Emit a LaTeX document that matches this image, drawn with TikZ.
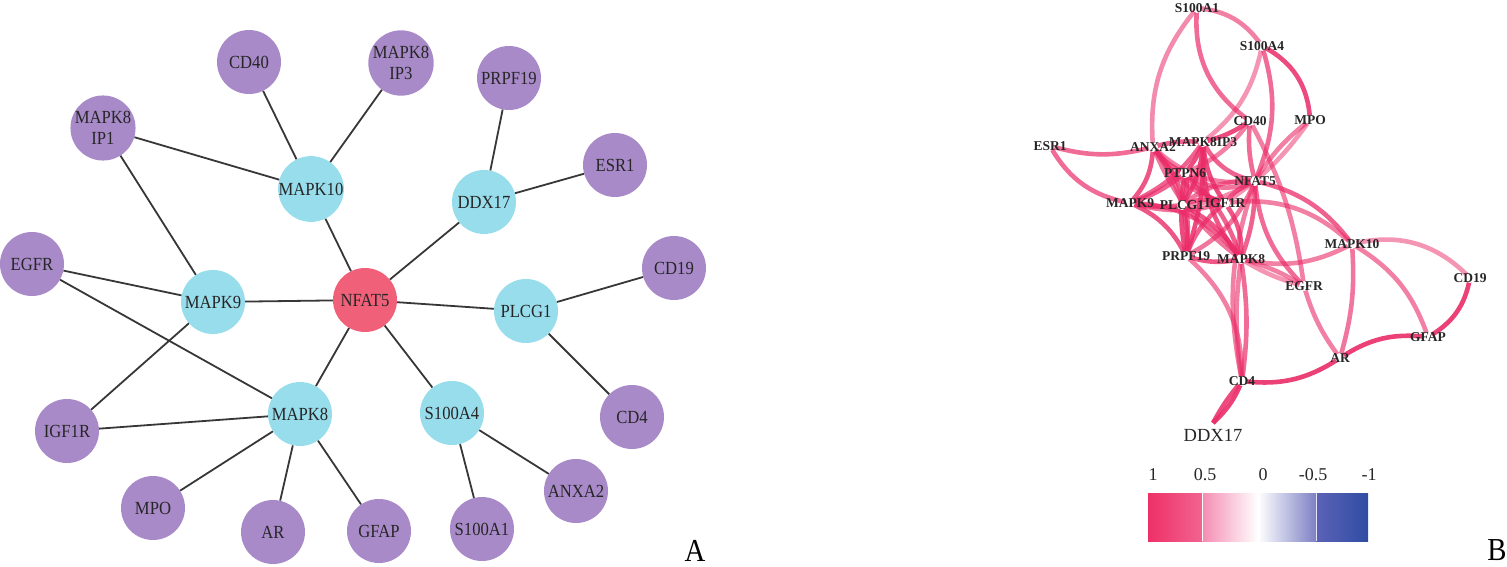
\documentclass[tikz,border=0pt]{standalone}
\usepackage{fontspec}
\setmainfont{Liberation Serif}
\newfontfamily\netfont[FakeStretch=0.9]{Liberation Serif}
\usetikzlibrary{positioning}

\definecolor{corered}{RGB}{240,96,121}
\definecolor{hubcyan}{RGB}{152,221,236}
\definecolor{leafpurple}{RGB}{169,138,201}
\definecolor{linkgray}{RGB}{55,55,55}
\definecolor{coexppink}{RGB}{234,44,104}
\definecolor{barpinkA}{RGB}{238,48,104}
\definecolor{barpinkB}{RGB}{241,100,144}
\definecolor{barpinkC}{RGB}{244,140,178}
\definecolor{barblueA}{RGB}{125,128,196}
\definecolor{barblueB}{RGB}{92,98,182}
\definecolor{barblueC}{RGB}{47,77,163}

\tikzset{
  gene/.style={circle, minimum size=64pt, inner sep=0pt, align=center,
    font=\netfont\fontsize{18.5}{20.5}\selectfont, text=black!85},
  core/.style={gene, fill=corered},
  hub/.style={gene, fill=hubcyan},
  leaf/.style={gene, fill=leafpurple},
  link/.style={draw=linkgray, line width=1.8pt},
  coexp/.style={draw=coexppink, line width=4.6pt},
  dot/.style={circle, fill=white, minimum size=10pt, inner sep=0pt},
  genelabel/.style={font=\bfseries\fontsize{13.5}{13.5}\selectfont, text=black!85, inner sep=0pt},
  plainlabel/.style={font=\fontsize{18}{18}\selectfont, text=black!85, inner sep=0pt},
  panel/.style={font=\netfont\fontsize{32}{32}\selectfont, inner sep=0pt},
}

\begin{document}
\begin{tikzpicture}[x=1pt, y=-1pt]
\useasboundingbox (0,0) rectangle (1507,567);

% panel A: star network
\node[core] (NFAT5) at (365,300) {NFAT5};
\node[hub] (MAPK10) at (311,189) {MAPK10};
\node[hub] (DDX17) at (484,202) {DDX17};
\node[hub] (MAPK9) at (213,302) {MAPK9};
\node[hub] (PLCG1) at (526,311) {PLCG1};
\node[hub] (MAPK8) at (300,414) {MAPK8};
\node[hub] (S100A4) at (452,413) {S100A4};

\node[leaf] (CD40) at (249,62) {CD40};
\node[leaf] (MAPK8IP3) at (401,63) {MAPK8\\IP3};
\node[leaf] (PRPF19) at (509,78) {PRPF19};
\node[leaf] (MAPK8IP1) at (103,128) {MAPK8\\IP1};
\node[leaf] (ESR1) at (615,165) {ESR1};
\node[leaf] (EGFR) at (32,264) {EGFR};
\node[leaf] (CD19) at (674,268) {CD19};
\node[leaf] (IGF1R) at (67,431) {IGF1R};
\node[leaf] (CD4) at (632,417) {CD4};
\node[leaf] (ANXA2) at (576,491) {ANXA2};
\node[leaf] (MPO) at (153,508) {MPO};
\node[leaf] (S100A1) at (482,529) {S100A1};
\node[leaf] (AR) at (273,532) {AR};
\node[leaf] (GFAP) at (379,531) {GFAP};

\foreach \a/\b in {NFAT5/MAPK10, NFAT5/DDX17, NFAT5/MAPK9, NFAT5/PLCG1,
    NFAT5/MAPK8, NFAT5/S100A4, MAPK10/CD40, MAPK10/MAPK8IP3, MAPK10/MAPK8IP1,
    DDX17/PRPF19, DDX17/ESR1, MAPK9/MAPK8IP1, MAPK9/EGFR, MAPK9/IGF1R,
    PLCG1/CD19, PLCG1/CD4, MAPK8/EGFR, MAPK8/IGF1R, MAPK8/MPO, MAPK8/AR,
    MAPK8/GFAP, S100A4/ANXA2, S100A4/S100A1}
  \draw[link] (\a) -- (\b);

\node[panel] (panelA) at (695,551) {A};

% panel B: co-expression network
\coordinate (bS100A1) at (1197,8);
\coordinate (bS100A4) at (1262,46);
\coordinate (bMPO) at (1310,120);
\coordinate (bCD40) at (1250,121);
\coordinate (bESR1) at (1050,146);
\coordinate (bANXA2) at (1153,147);
\coordinate (bMAPK8IP3) at (1203,142);
\coordinate (bPTPN6) at (1185,173);
\coordinate (bNFAT5) at (1255,181);
\coordinate (bMAPK9) at (1130,203);
\coordinate (bPLCG1) at (1182,205);
\coordinate (bIGF1R) at (1225,203);
\coordinate (bMAPK10) at (1352,244);
\coordinate (bPRPF19) at (1186,256);
\coordinate (bMAPK8) at (1241,259);
\coordinate (bCD19) at (1470,278);
\coordinate (bEGFR) at (1304,286);
\coordinate (bGFAP) at (1428,337);
\coordinate (bAR) at (1340,358);
\coordinate (bCD4) at (1242,381);
\coordinate (bDDX17) at (1213,423);

% dense core
\foreach \a/\b/\bend/\op in {bANXA2/bMAPK8IP3/10/0.75, bANXA2/bPTPN6/-15/0.75,
    bANXA2/bMAPK9/20/0.8, bANXA2/bPLCG1/10/0.65, bANXA2/bIGF1R/-20/0.65,
    bANXA2/bPRPF19/25/0.75, bANXA2/bMAPK8/-15/0.65, bANXA2/bNFAT5/-25/0.6,
    bMAPK8IP3/bPTPN6/10/0.85, bMAPK8IP3/bMAPK9/15/0.75, bMAPK8IP3/bPLCG1/15/0.85,
    bMAPK8IP3/bIGF1R/-15/0.85, bMAPK8IP3/bPRPF19/10/0.85, bMAPK8IP3/bMAPK8/-20/0.8,
    bMAPK8IP3/bNFAT5/-25/0.75, bPTPN6/bMAPK9/10/0.75, bPTPN6/bPLCG1/20/0.85,
    bPTPN6/bIGF1R/-20/0.75, bPTPN6/bPRPF19/-10/0.85, bPTPN6/bMAPK8/15/0.75,
    bPTPN6/bNFAT5/-30/0.65, bMAPK9/bPLCG1/-10/0.65, bMAPK9/bIGF1R/-15/0.65,
    bMAPK9/bPRPF19/20/0.8, bMAPK9/bMAPK8/25/0.75, bMAPK9/bNFAT5/-20/0.55,
    bPLCG1/bIGF1R/20/0.75, bPLCG1/bPRPF19/10/0.85, bPLCG1/bMAPK8/15/0.8,
    bPLCG1/bNFAT5/20/0.65, bIGF1R/bPRPF19/-15/0.75, bIGF1R/bMAPK8/20/0.8,
    bIGF1R/bNFAT5/15/0.65, bPRPF19/bMAPK8/-15/0.8, bNFAT5/bMAPK8/10/0.75,
    bNFAT5/bPRPF19/20/0.65}
  \draw[coexp, draw opacity=\op] (\a) to[bend left=\bend] (\b);

% outer edges
\foreach \a/\b/\bend/\op in {bS100A1/bANXA2/-22/0.55, bS100A1/bS100A4/25/0.6,
    bS100A1/bCD40/-30/0.7, bS100A4/bMPO/30/0.85, bS100A4/bMAPK8IP3/20/0.5,
    bS100A4/bNFAT5/20/0.7, bMPO/bNFAT5/-10/0.6, bMPO/bIGF1R/10/0.5,
    bCD40/bMAPK8IP3/10/0.85, bCD40/bNFAT5/-10/0.7, bCD40/bPTPN6/15/0.6,
    bCD40/bEGFR/10/0.6, bESR1/bANXA2/-15/0.7, bESR1/bMAPK9/-25/0.7,
    bNFAT5/bMAPK10/20/0.75, bIGF1R/bMAPK10/25/0.6, bNFAT5/bEGFR/-20/0.7,
    bMAPK8/bMAPK10/-20/0.6, bMAPK8/bEGFR/8/0.6, bMAPK8/bEGFR/-8/0.5,
    bMAPK8/bCD4/8/0.7, bMAPK8/bCD4/-8/0.6, bNFAT5/bCD4/-15/0.6,
    bPRPF19/bCD4/25/0.6, bMAPK10/bCD19/30/0.5, bMAPK10/bAR/10/0.65,
    bMAPK10/bGFAP/20/0.6, bCD19/bGFAP/25/0.9, bGFAP/bAR/-20/0.9,
    bAR/bCD4/20/0.9, bEGFR/bAR/-10/0.6, bCD4/bDDX17/12/0.9, bCD4/bDDX17/-6/0.85}
  \draw[coexp, draw opacity=\op] (\a) to[bend left=\bend] (\b);

\foreach \g in {S100A1, S100A4, MPO, CD40, ESR1, ANXA2, MAPK8IP3, PTPN6, NFAT5,
    MAPK9, PLCG1, IGF1R, MAPK10, PRPF19, MAPK8, CD19, EGFR, GFAP, AR, CD4}
  \node[dot] at (b\g) {};
\foreach \g in {S100A1, S100A4, MPO, CD40, ESR1, ANXA2, MAPK8IP3, PTPN6, NFAT5,
    MAPK9, PLCG1, IGF1R, MAPK10, PRPF19, MAPK8, CD19, EGFR, GFAP, AR, CD4}
  \node[genelabel] (l\g) at (b\g) {\g};
\node[font=\fontsize{18.5}{18.5}\selectfont, text=black!85, inner sep=0pt, below=6pt of bDDX17] (lDDX17) {DDX17};

% colour bar
\shade[left color=barpinkA, right color=barpinkB] (1148,493) rectangle (1202,541);
\shade[left color=barpinkC, right color=white] (1202,493) rectangle (1258,541);
\shade[left color=white, right color=barblueA] (1258,493) rectangle (1316,541);
\shade[left color=barblueB, right color=barblueC] (1316,493) rectangle (1368,541);
\draw[white, line width=0.8pt] (1202,493) -- (1202,541);
\draw[white!80!barblueA, line width=0.8pt] (1316,493) -- (1316,541);
\node[plainlabel] (tickA) at (1153,475) {1};
\node[plainlabel] (tickB) at (1205,475) {0.5};
\node[plainlabel] (tickC) at (1263,475) {0};
\node[plainlabel] (tickD) at (1313,475) {-0.5};
\node[plainlabel] (tickE) at (1369,475) {-1};

\node[panel] (panelB) at (1497,550) {B};
\end{tikzpicture}
\end{document}
